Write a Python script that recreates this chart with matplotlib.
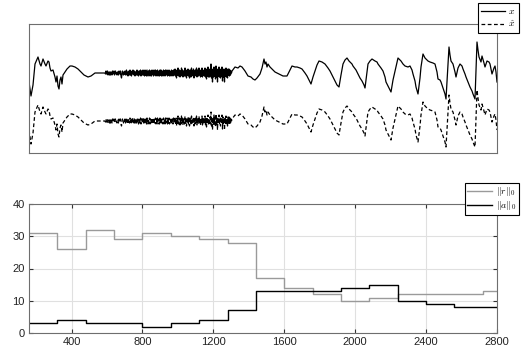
import numpy as np
import matplotlib
matplotlib.use('Agg')
import matplotlib.pyplot as plt

plt.rcParams['font.family'] = ['Liberation Sans', 'DejaVu Sans']
plt.rcParams['mathtext.fontset'] = 'cm'

# ---- top panel: signal x (samples / amplitude)
head_t = [0, 12, 24, 36, 54, 66, 72, 84, 96, 102, 114, 120, 126, 132, 144, 156,
          162, 168, 174, 180, 186, 192, 198, 204, 216, 228, 246, 258, 276, 294,
          312, 330, 354, 372, 396, 426]
head_v = [-9, -23, -12, 9, 16, 9, 7, 14, 9, 7, 12, 11, 5, 2, 3, -4,
          -9, -3, -13, -16, -7, -4, -11, -2, 1, 4, 7, 7, 6, 4,
          1, -2, -4, -3, 0, 0]

# noisy stretch, every 3 samples from sample 456
noise_start = 456
noise_v = [0, -1, 2, -1, 0, 2, -2, 0, 1, -2, 1, -2, 1, 0, -2, 2, -1, 1, 2, -2,
           0, 2, -1, 0, -2, 1, 1, -2, 2, 0, -1, 2, -3, -5, -1, 2, 0, -2, 1, -1,
           2, -2, 0, 3, -2, 1, -3, 1, 2, -2, 3, -2, 0, -3, 2, -1, 3, 0, -2, 2,
           -3, 1, 0, -2, 3, -2, 2, -3, 1, 2, -2, 3, -3, 2, 0, -2, 3, -2, 2, -3,
           3, -2, 2, -3, 3, 0, -3, 2, -2, 3, -3, 2, 0, -3, 3, -1, 2, -3, 3, -2,
           1, 3, -3, 2, -2, 3, -3, 0, 2, -3, 3, -2, 3, -3, 2, 0, -3, 3, -2, 2,
           -3, 3, -2, 1, 3, -3, 2, -2, 3, -3, 2, 0, -3, 3, -2, 2, -3, 3, 0, -2,
           4, -3, 2, -5, 3, -2, 5, -3, 1, 3, -4, 2, -3, 5, -2, 3, -4, 2, 0, -3,
           5, -3, 3, -5, 2, -2, 4, -3, 3, -5, 1, 3, -4, 5, -2, 2, -3, 4, -5, 2,
           -3, 3, -2, 5, -4, 3, -1, -3, 5, -2, 3, -4, 2, -3, 5, -4, 3, -2, 2, -3,
           5, -4, 3, -6, 4, -3, 6, -4, 2, -4, 4, -3, 9, -5, 4, -9, 3, -4, 6, -3,
           4, -6, 7, -4, 3, -9, 4, -3, 6, -4, 3, -5, 4, -3, 6, -8, 4, -4, 3, -9,
           4, -3, 5, -4, 3, -5, 4, -2, 4, -3, 3, -2, 2, 0]

tail_t = [1218, 1236, 1254, 1266, 1278, 1296, 1314, 1332, 1344, 1356, 1368, 1386,
          1398, 1410, 1416, 1422, 1428, 1434, 1446, 1458, 1476, 1500, 1524, 1548,
          1560, 1578, 1596, 1608, 1626, 1638, 1656, 1668, 1680, 1692, 1704, 1716,
          1728, 1740, 1758, 1776, 1794, 1806, 1824, 1836, 1848, 1860, 1872, 1884,
          1896, 1908, 1920, 1926, 1938, 1944, 1962, 1974, 1986, 1998, 2010, 2016,
          2028, 2034, 2046, 2058, 2076, 2088, 2094, 2112, 2124, 2136, 2142, 2160,
          2172, 2184, 2196, 2208, 2214, 2226, 2232, 2244, 2256, 2274, 2286, 2298,
          2304, 2316, 2322, 2334, 2346, 2352, 2364, 2376, 2382, 2394, 2406, 2424,
          2436, 2448, 2454, 2466, 2472, 2484, 2496, 2502, 2514, 2520, 2526, 2532,
          2544, 2556, 2562, 2574, 2586, 2598, 2604, 2616, 2622, 2634, 2646, 2658,
          2664, 2676, 2682, 2688, 2694, 2700, 2712, 2718, 2730, 2736, 2748, 2760,
          2766, 2778, 2790, 2796, 2802, 2808]
tail_v = [2, 6, 5, 7, 6, 2, -3, -4, -6, -7, -5, -1,
          5, 14, 9, 11, 6, 9, 6, 4, 1, -1, -3, -3,
          1, 7, 6, 6, 5, 4, 0, -3, -7, -11, -4, 2,
          8, 12, 11, 9, 5, 2, -4, -8, -12, -14, -2, 9,
          13, 15, 12, 11, 9, 7, 3, -1, -5, -8, -12, -15,
          1, 9, 12, 14, 12, 11, 9, 5, 2, -4, -9, -15,
          -19, -7, 2, 11, 15, 13, 12, 9, 7, 6, 7, 3,
          -1, -8, -14, -21, -5, 6, 19, 15, 14, 12, 11, 10,
          9, 1, -6, -7, -9, -15, -21, -26, 8, 26, 18, 12,
          9, 1, -4, 5, 9, 7, 4, -1, -4, -9, -14, -18,
          -21, -26, 3, 31, 23, 16, 11, 17, 10, 6, 12, 11,
          9, -1, 5, 7, 1, -9]

noise_t = noise_start + 3 * np.arange(len(noise_v))
sig_t = np.concatenate([head_t, noise_t, tail_t])
x_sig = np.concatenate([head_v, noise_v, tail_v])
x_hat = x_sig.copy()   # reconstruction sits on top of x
hat_shift = -48        # drawn below x

# ---- bottom panel: sparsity per window of 160 samples
win_edges = [160, 320, 480, 640, 800, 960, 1120, 1280, 1440, 1600, 1760, 1920,
             2080, 2240, 2400, 2560, 2720, 2800]
r_norm = [31, 26, 32, 29, 31, 30, 29, 28, 17, 14, 12, 10, 11, 12, 12, 12, 13]
a_norm = [3, 4, 3, 3, 2, 3, 4, 7, 13, 13, 13, 14, 15, 10, 9, 8, 8]

fig = plt.figure(figsize=(5.24, 3.54), dpi=100)
spine_col = '#6e6e6e'

ax1 = fig.add_axes([29/524, 1-153/354, 468/524, 129/354])
ax1.plot(sig_t, x_sig, color='k', lw=0.9, label=r'$x$')
ax1.plot(sig_t, x_hat + hat_shift, color='k', lw=0.9, ls='--', dashes=(3, 2),
         label=r'$\hat{x}$')
ax1.set_xlim(0, 2808)
ax1.set_ylim(-80, 49)
ax1.set_xticks([])
ax1.set_yticks([])
for s in ax1.spines.values():
    s.set_color(spine_col)
leg1 = ax1.legend(loc='upper right', bbox_to_anchor=(519/524, 1-3/354),
                  bbox_transform=fig.transFigure, fontsize=7, fancybox=False,
                  edgecolor='k', framealpha=1, handlelength=2.4,
                  borderpad=0.35, labelspacing=0.25, handletextpad=0.4,
                  borderaxespad=0)
leg1.get_frame().set_linewidth(0.8)

ax2 = fig.add_axes([29/524, 1-333/354, 468/524, 129/354])
ax2.step(win_edges, r_norm + [r_norm[-1]], where='post', color='#9a9a9a',
         lw=1.0, label=r'$\|r\|_0$')
ax2.step(win_edges, a_norm + [a_norm[-1]], where='post', color='k',
         lw=1.0, label=r'$\|a\|_0$')
ax2.set_xlim(160, 2800)
ax2.set_ylim(0, 40)
ax2.set_xticks(np.arange(400, 2801, 400))
ax2.set_yticks(np.arange(0, 41, 10))
ax2.grid(True, color='#e0e0e0', lw=0.8)
ax2.set_axisbelow(True)
ax2.tick_params(direction='in', top=True, right=True, length=3,
                labelsize=8, color='#333333', labelcolor='#222222', pad=3)
for s in ax2.spines.values():
    s.set_color(spine_col)
leg2 = ax2.legend(loc='upper right', bbox_to_anchor=(519/524, 1-183/354),
                  bbox_transform=fig.transFigure, fontsize=7, fancybox=False,
                  edgecolor='k', framealpha=1, handlelength=2.6,
                  borderpad=0.25, labelspacing=0.1, handletextpad=0.4,
                  borderaxespad=0)
leg2.get_frame().set_linewidth(0.8)

fig.savefig('out.png', dpi=100)
